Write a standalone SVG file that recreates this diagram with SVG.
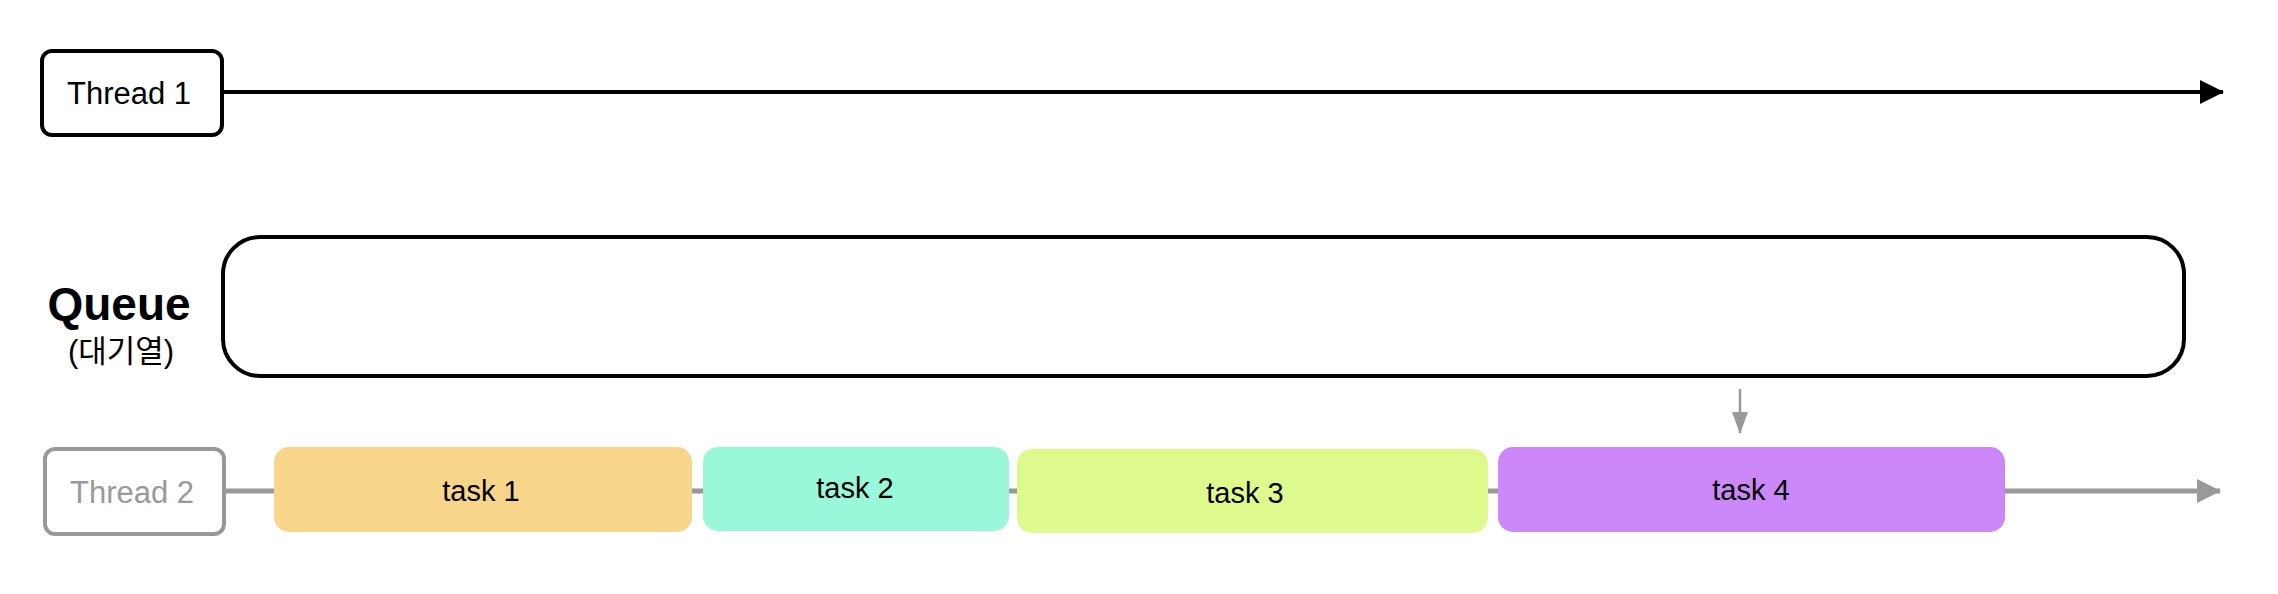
<svg xmlns="http://www.w3.org/2000/svg" width="2278" height="594" viewBox="0 0 2278 594">
<style>
text{font-family:"Liberation Sans",Arial,"Noto Sans CJK KR",sans-serif;text-anchor:middle}
.lbl{font-size:31px;fill:#000}
.task{font-size:29px;fill:#000}
.gray{fill:#999999}
</style>
<defs>
<marker id="ahBlack" markerUnits="userSpaceOnUse" markerWidth="24" markerHeight="24" refX="23" refY="12" orient="auto"><path d="M0,0 L24,12 L0,24 Z" fill="#000"/></marker>
<marker id="ahGray" markerUnits="userSpaceOnUse" markerWidth="24" markerHeight="24" refX="23" refY="12" orient="auto"><path d="M0,0 L24,12 L0,24 Z" fill="#999999"/></marker>
<marker id="ahGraySmall" markerUnits="userSpaceOnUse" markerWidth="22" markerHeight="16" refX="21" refY="8" orient="auto"><path d="M0,0 L22,8 L0,16 Z" fill="#999999"/></marker>
</defs>
<rect width="2278" height="594" fill="#fff"/>
<g id="connectors">
<line x1="224" y1="92" x2="2223" y2="92" stroke="#000" stroke-width="4" marker-end="url(#ahBlack)"/>
<line x1="226" y1="491" x2="2220" y2="491" stroke="#999999" stroke-width="5" marker-end="url(#ahGray)"/>
<line x1="1740" y1="389" x2="1740" y2="433" stroke="#999999" stroke-width="2.5" marker-end="url(#ahGraySmall)"/>
</g>
<g id="thread1">
<rect x="42" y="51" width="180" height="84" rx="10" fill="#fff" stroke="#000" stroke-width="4"/>
<text class="lbl" x="129" y="104">Thread 1</text>
</g>
<g id="queue-label">
<text x="119" y="320" style="font-size:46px;font-weight:bold">Queue</text>
<text x="121" y="362" style="font-size:31px">(대기열)</text>
</g>
<g id="queue">
<rect x="223" y="237" width="1961" height="139" rx="37" fill="#fff" stroke="#000" stroke-width="4"/>
</g>
<g id="thread2">
<rect x="45" y="449" width="179" height="85" rx="10" fill="#fff" stroke="#999999" stroke-width="4"/>
<text class="lbl gray" x="132" y="503">Thread 2</text>
</g>
<g id="task1">
<rect x="274" y="447" width="418" height="85" rx="15" fill="#F7D58A"/>
<text class="task" x="481" y="501">task 1</text>
</g>
<g id="task2">
<rect x="703" y="447" width="306" height="84" rx="15" fill="#99F8D9"/>
<text class="task" x="855" y="498">task 2</text>
</g>
<g id="task3">
<rect x="1017" y="449" width="471" height="84" rx="15" fill="#DFFA8C"/>
<text class="task" x="1245" y="503">task 3</text>
</g>
<g id="task4">
<rect x="1498" y="447" width="507" height="85" rx="15" fill="#CC88F8"/>
<text class="task" x="1751" y="500">task 4</text>
</g>
</svg>
